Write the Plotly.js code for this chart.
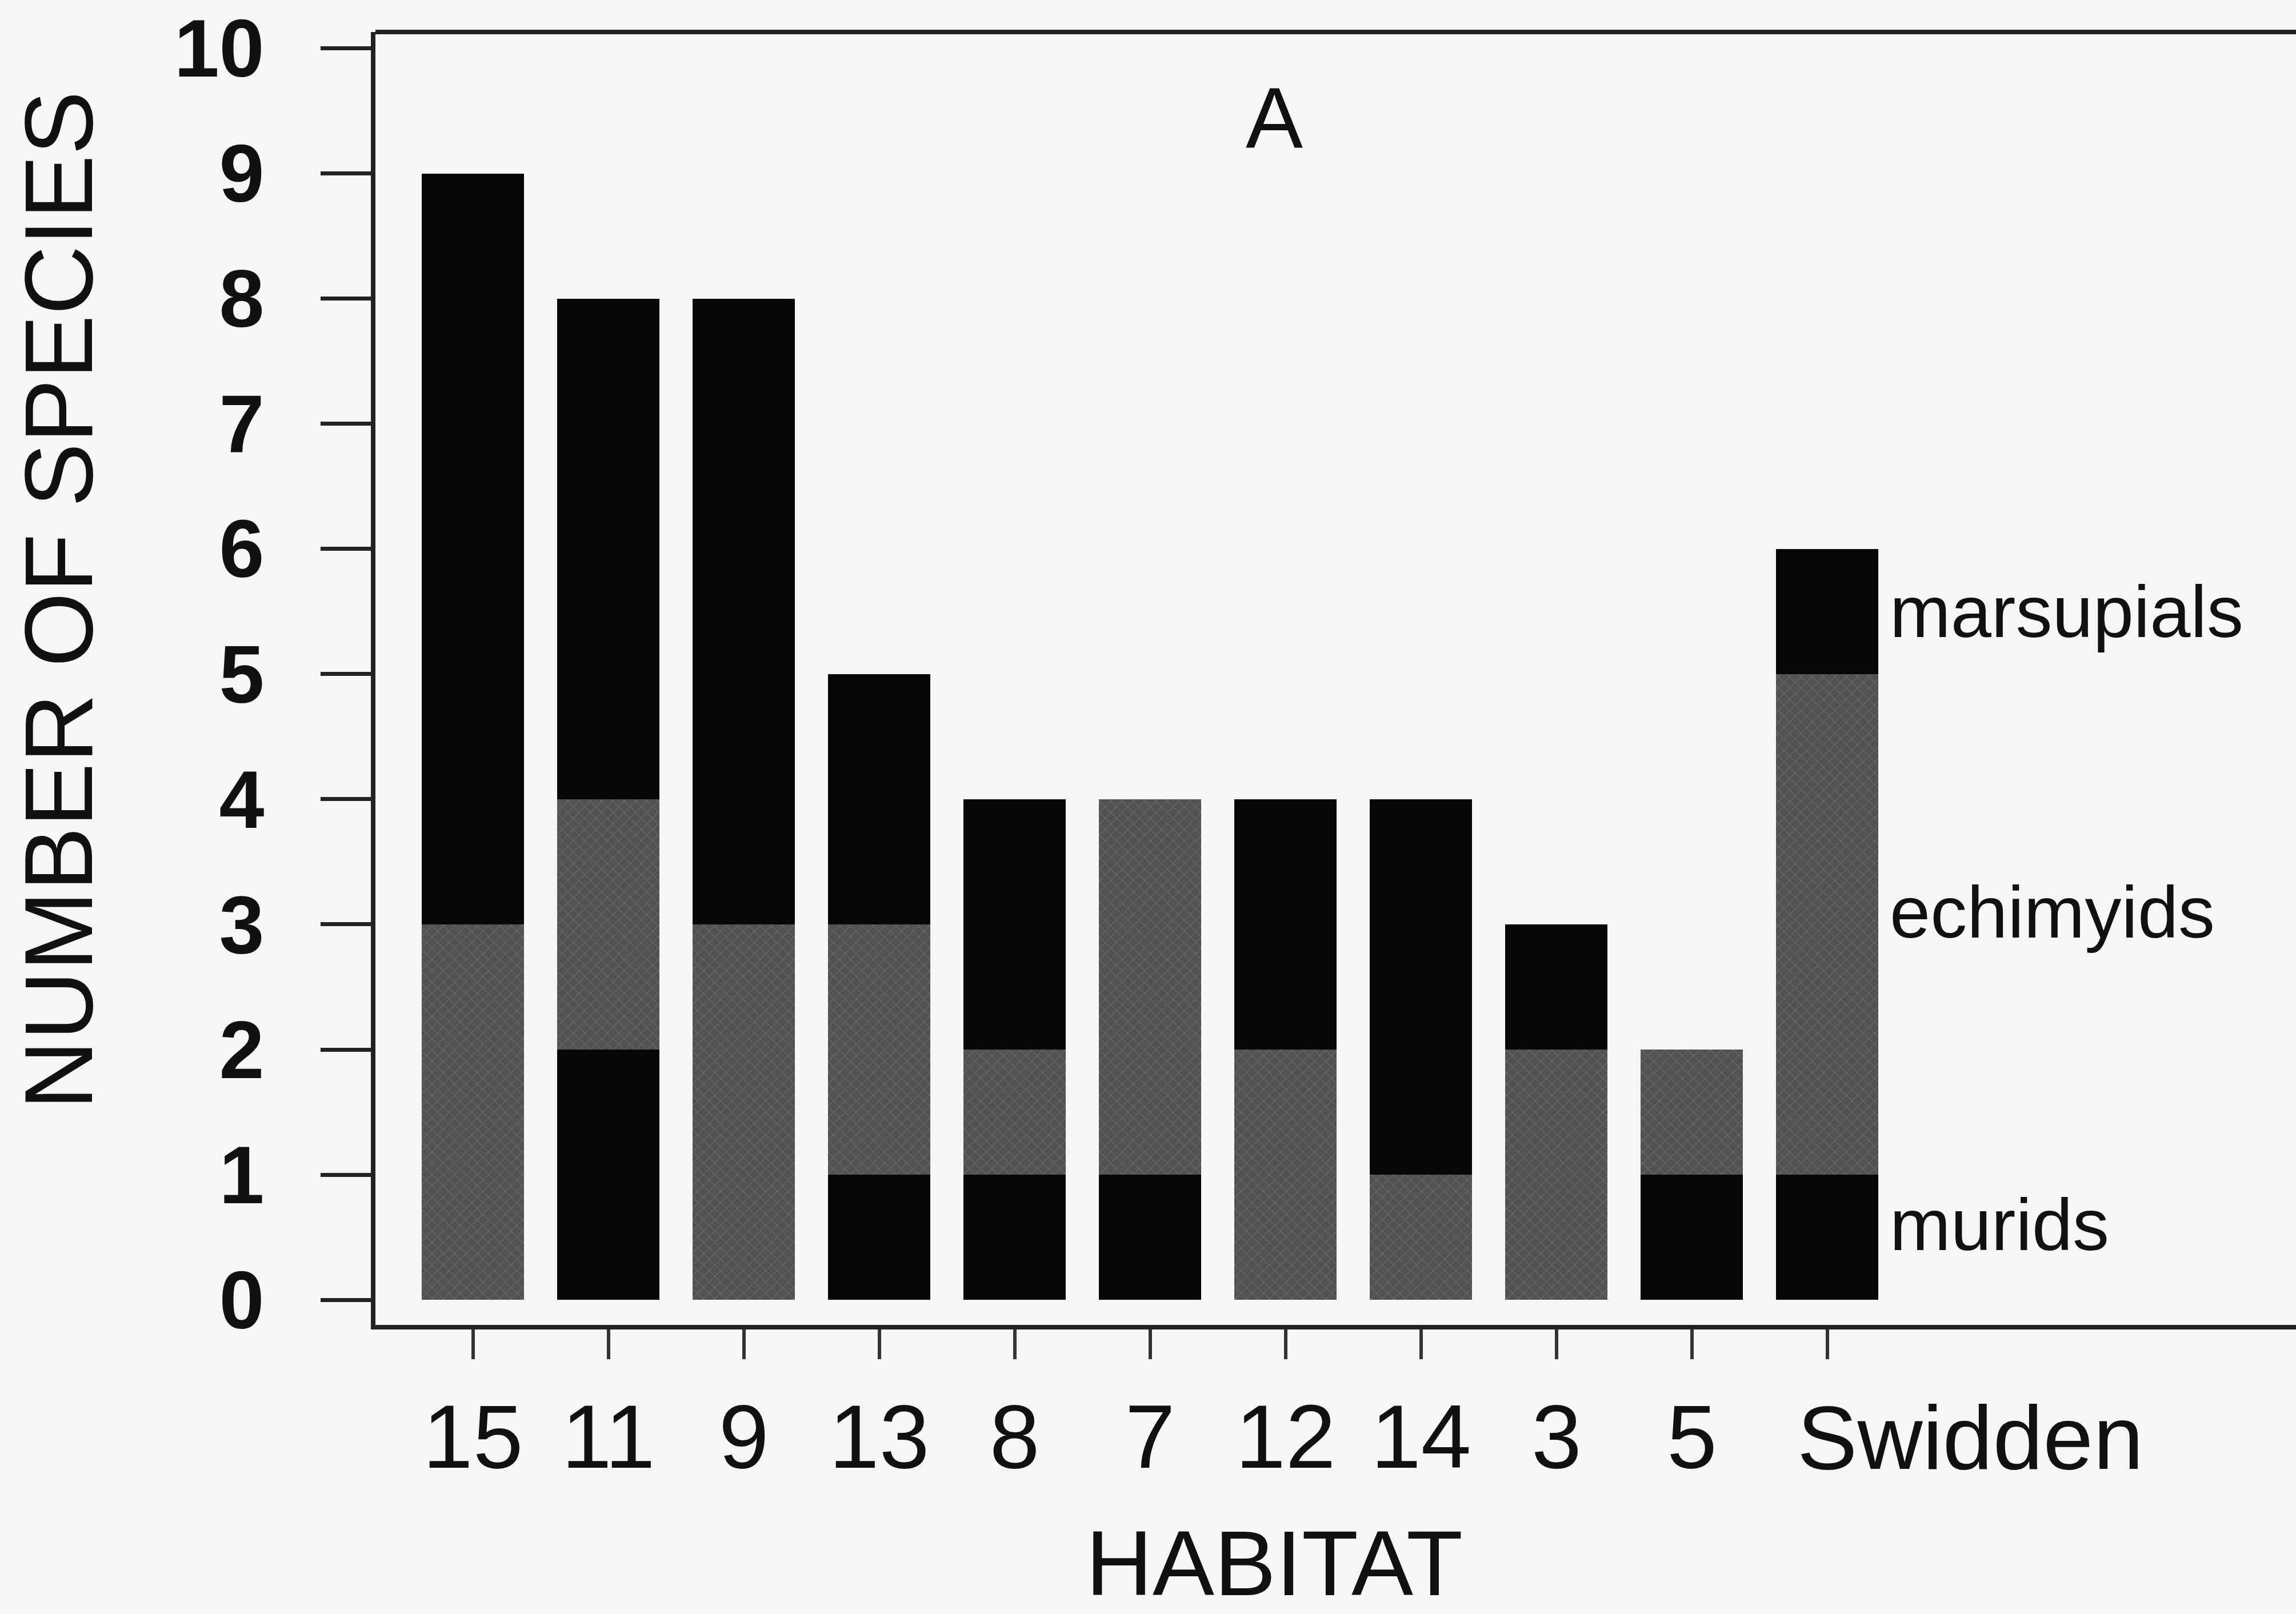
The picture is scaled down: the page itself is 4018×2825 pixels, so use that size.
<!DOCTYPE html>
<html>
<head>
<meta charset="utf-8">
<script src="https://cdn.plot.ly/plotly-3.0.1.min.js"></script>
<style>
  html, body { margin: 0; padding: 0; background: #f6f6f6; }
  #chart { width: 4018px; height: 2825px; }
</style>
</head>
<body>
<div id="chart"></div>
<script>
// Data
const habitats   = ['15', '11', '9', '13', '8', '7', '12', '14', '3', '5', 'Swidden'];
const murids     = [0, 2, 0, 1, 1, 1, 0, 0, 0, 1, 1];
const echimyids  = [3, 2, 3, 2, 1, 3, 2, 1, 2, 1, 4];
const marsupials = [6, 4, 5, 2, 2, 0, 2, 3, 1, 0, 1];
const yTicks     = [0, 1, 2, 3, 4, 5, 6, 7, 8, 9, 10];
const seriesLabels = ['marsupials', 'echimyids', 'murids'];
const seriesLabelY = [5.5, 3.1, 0.6];

const FONT = 'Liberation Sans, Arial, Helvetica, sans-serif';
const BLACK = '#070707';
const GRAY = '#525252';

// In the reference the "Swidden" label starts at its tick rather than being centred on it,
// so it is drawn as a left-anchored label at that category instead of a centred tick label.
const lastCat = habitats[habitats.length - 1];
const tickText = habitats.map(h => h === lastCat ? '' : h);

const traces = [
  { name: 'murids', x: habitats, y: murids, type: 'bar',
    marker: { color: BLACK, line: { width: 0 } } },
  { name: 'echimyids', x: habitats, y: echimyids, type: 'bar',
    marker: { color: GRAY, line: { width: 0 },
      pattern: { shape: 'x', fgcolor: '#6a6a6a', bgcolor: GRAY, size: 14, solidity: 0.15 } } },
  { name: 'marsupials', x: habitats, y: marsupials, type: 'bar',
    marker: { color: BLACK, line: { width: 0 } } }
];

const annotations = seriesLabels.map((t, i) => ({
  text: t, x: 10.45, y: seriesLabelY[i], xref: 'x', yref: 'y',
  xanchor: 'left', yanchor: 'middle', showarrow: false,
  font: { family: FONT, size: 128, color: '#111' }
}));

annotations.push({
  text: lastCat, x: lastCat, xref: 'x', yref: 'paper', y: -0.0871,
  xanchor: 'left', yanchor: 'middle', xshift: -55, showarrow: false,
  font: { family: FONT, size: 158, color: '#111' }
});

annotations.push({
  text: 'HABITAT', xref: 'paper', yref: 'paper', x: 0.468, y: -0.184,
  xanchor: 'center', yanchor: 'middle', showarrow: false,
  font: { family: FONT, size: 162, color: '#111' }
});
annotations.push({
  text: 'NUMBER OF SPECIES', xref: 'paper', yref: 'paper', x: -0.1648, y: 0.5603,
  xanchor: 'center', yanchor: 'middle', showarrow: false, textangle: -90,
  font: { family: FONT, size: 168, color: '#111' }
});

const layout = {
  width: 4018, height: 2825,
  paper_bgcolor: '#f6f6f6', plot_bgcolor: '#f6f6f6',
  margin: { l: 657, r: 0, t: 56, b: 506, autoexpand: false },
  barmode: 'stack', bargap: 0.245,
  showlegend: false,
  title: { text: 'A', x: 0.555, xanchor: 'center', y: 1 - 205 / 2825, yanchor: 'middle',
    font: { family: FONT, size: 150, color: '#111' } },
  xaxis: {
    type: 'category', range: [-0.72, 13.46],
    tickmode: 'array', tickvals: habitats, ticktext: tickText,
    showline: true, linecolor: '#222', linewidth: 8,
    ticks: 'outside', ticklen: 52, tickwidth: 6, tickcolor: '#333',
    showgrid: false, zeroline: false, tickangle: 0, automargin: false,
    tickfont: { family: FONT, size: 158, color: '#111' }
  },
  yaxis: {
    range: [-0.2, 10.13], tickvals: yTicks, automargin: false,
    showline: true, linecolor: '#222', linewidth: 8,
    ticks: 'outside', ticklen: 88, tickwidth: 7, tickcolor: '#222',
    showgrid: false, zeroline: false,
    tickfont: { family: FONT, size: 142, color: '#111', weight: 'bold' },
    ticklabelstandoff: 70
  },
  shapes: [
    { type: 'line', xref: 'paper', yref: 'paper', x0: 0, x1: 1, y0: 1, y1: 1,
      line: { color: '#222', width: 8 } }
  ],
  annotations: annotations
};

Plotly.newPlot('chart', traces, layout, { displayModeBar: false, staticPlot: true });
</script>
</body>
</html>
